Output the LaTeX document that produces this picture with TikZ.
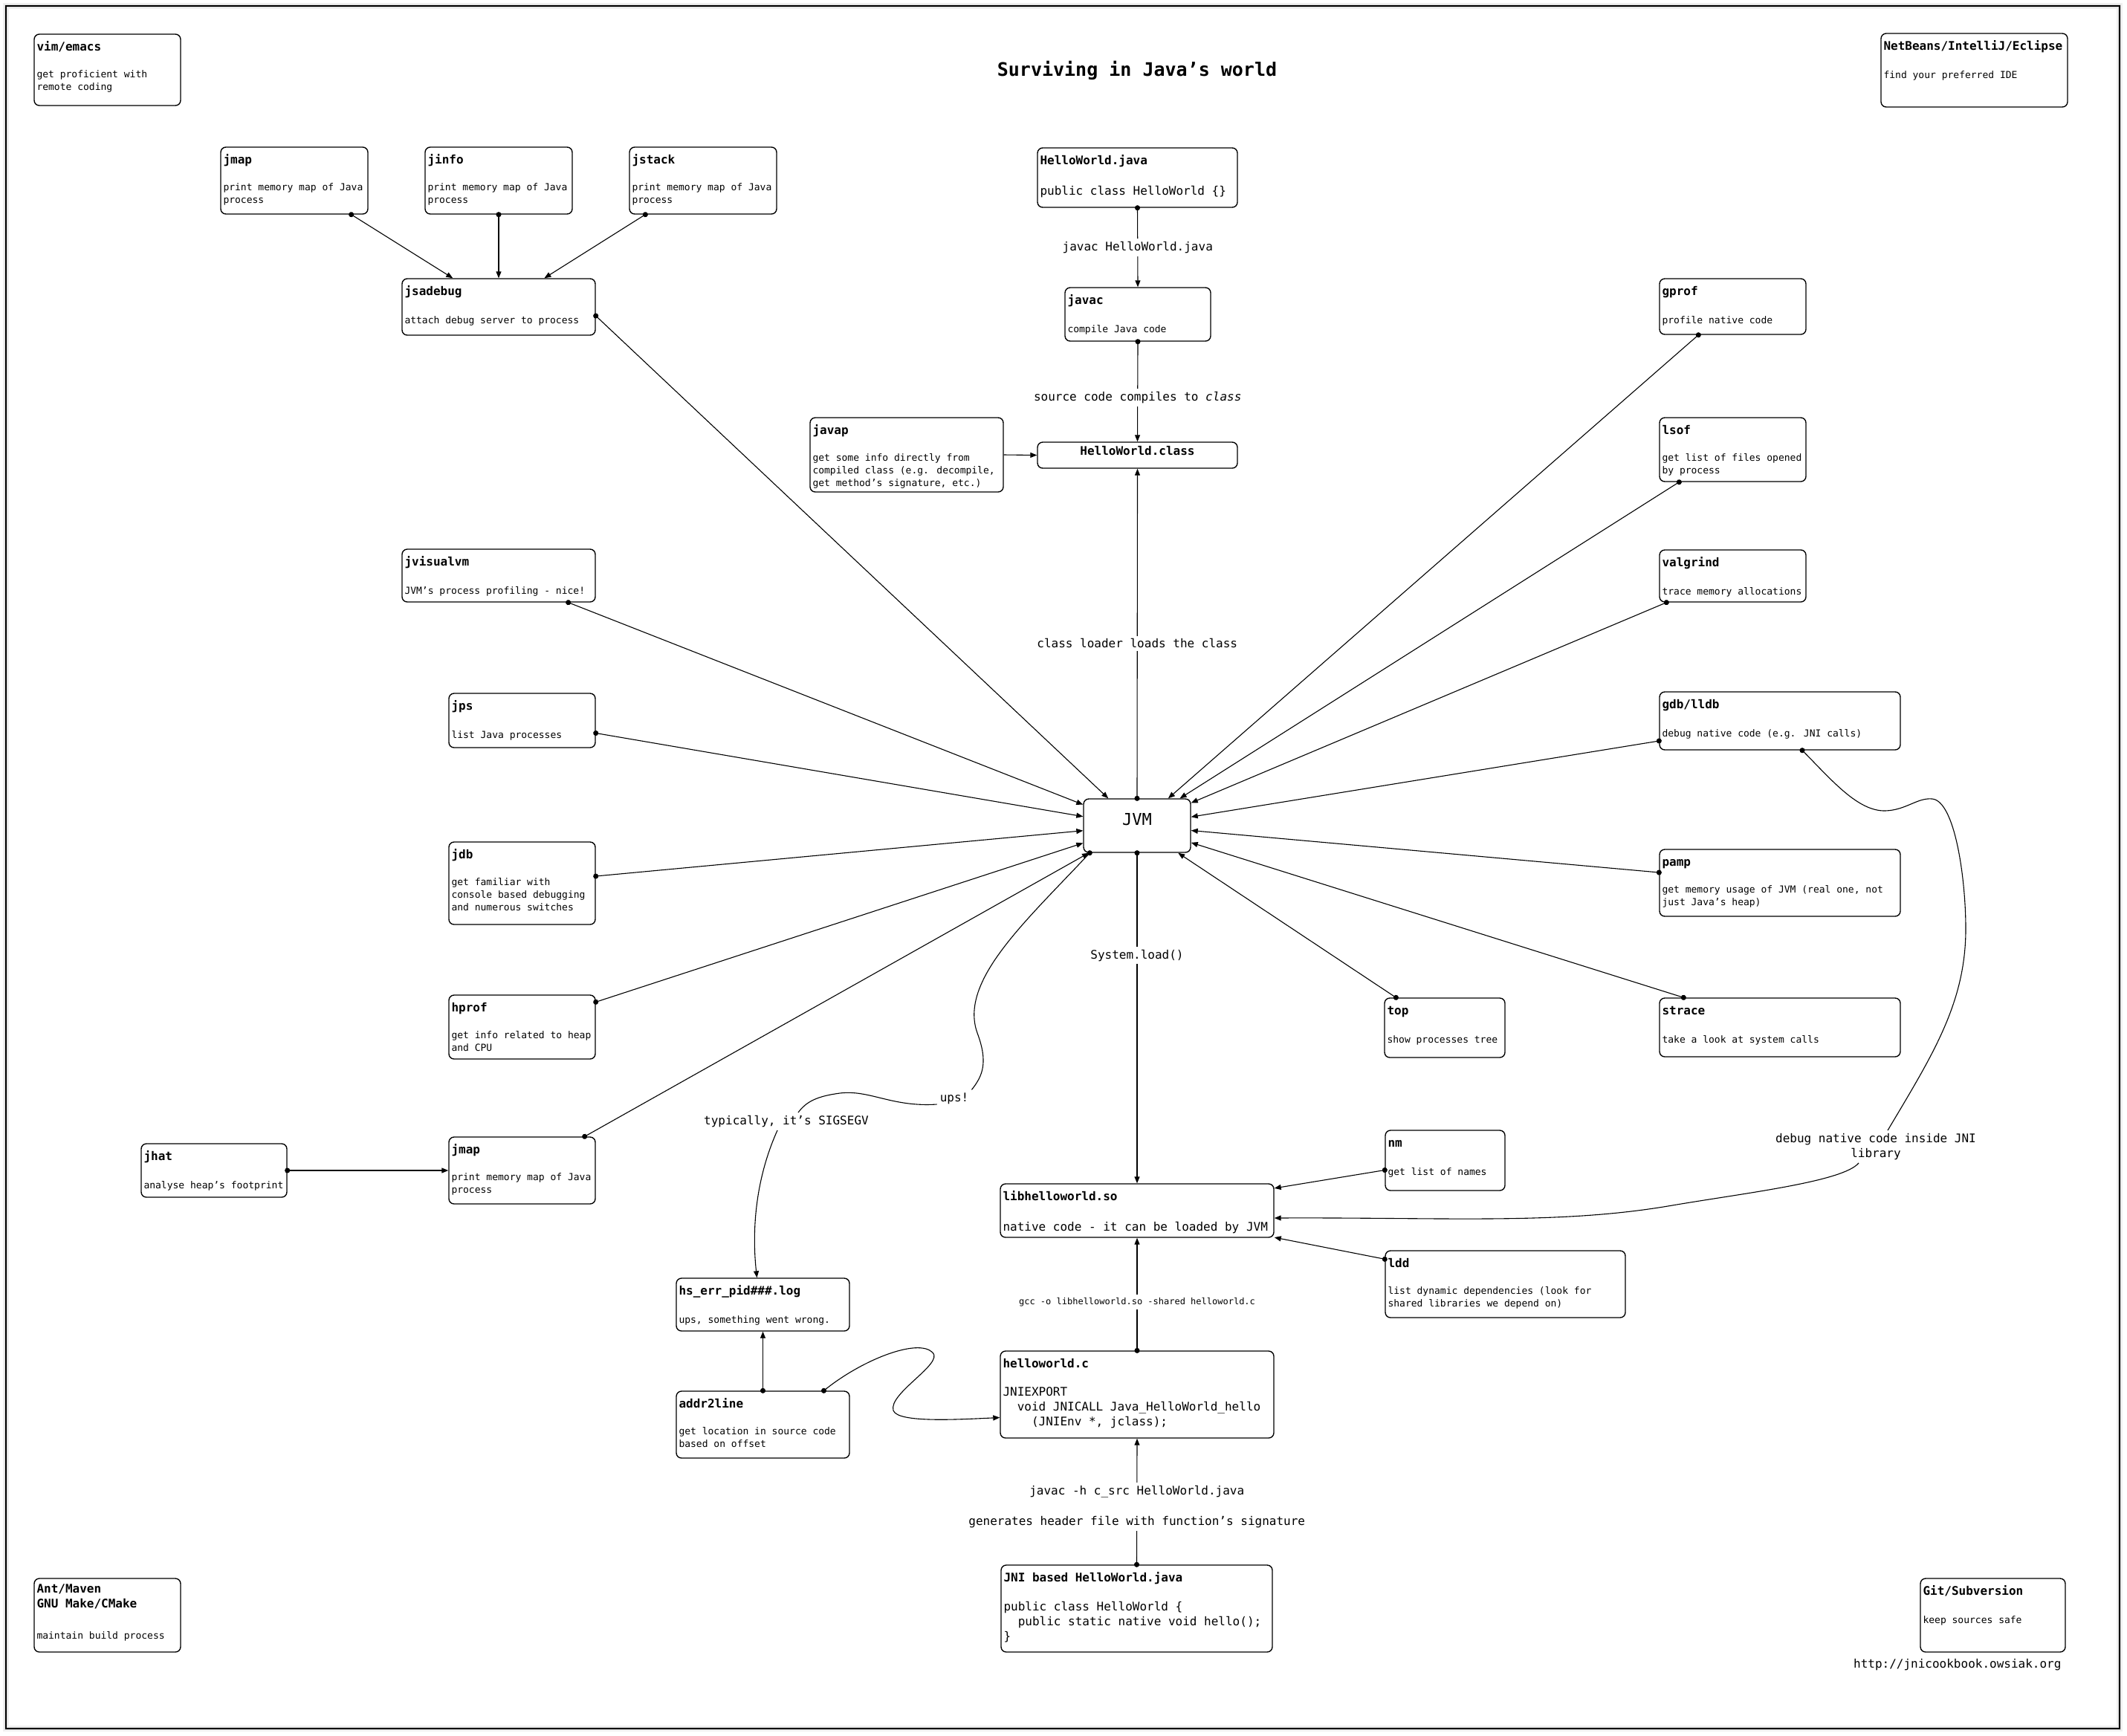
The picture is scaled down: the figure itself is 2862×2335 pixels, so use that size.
\documentclass[tikz,border=0pt]{standalone}
\usepackage{fontspec}
\setmainfont{DejaVu Sans Mono}
\usetikzlibrary{arrows.meta,fit}

\tikzset{
  box/.style={draw, line width=1.4pt, rounded corners=7pt, fill=white, inner sep=0pt},
  ttl/.style={anchor=north west, align=left, inner sep=0pt, xshift=4pt, yshift=-8.5pt,
    font=\fontsize{16}{20}\selectfont\bfseries, execute at begin node=\strut},
  dsc/.style={anchor=north west, align=left, inner sep=0pt, xshift=4pt, yshift=-49pt,
    font=\fontsize{13}{17}\selectfont, execute at begin node=\strut},
  bigdsc/.style={dsc, yshift=-0.5pt, font=\fontsize{16}{20}\selectfont},
  lbl/.style={fill=white, inner sep=4pt, align=center, font=\fontsize{16}{20}\selectfont},
  conn/.style={line width=1.1pt, ->},
  dotconn/.style={line width=1.1pt, {Circle[length=7pt]}->, shorten <=-3.5pt},
  dotstart/.style={line width=1.1pt, {Circle[length=7pt]}-, shorten <=-3.5pt},
  >={Triangle[length=9pt,width=7pt]}
}

% #1 text style, #2 name, #3 top left, #4 bottom right, #5 title, #6 description
\newcommand{\toolbox}[6][dsc]{%
  \node[box, fit={(#3) (#4)}] (#2) {};
  \node[ttl] (#2-t) at (#2.north west) {#5};
  \node[#1] (#2-d) at (#2.north west) {#6};
}

\begin{document}
\begin{tikzpicture}[x=1pt, y=-1pt]
\useasboundingbox (0,0) rectangle (2862,2335);

% page frame
\draw[line width=8pt, black!6] (8,8) rectangle (2852,2326);
\draw[line width=4pt, black!14] (8,8) rectangle (2852,2326);
\draw[line width=1.6pt] (8,8) rectangle (2852,2326);

\node[font=\fontsize{25}{30}\selectfont\bfseries] (title) at (1530,95) {Surviving in Java’s world};

% corners
\toolbox{vim}{46,46}{243,142}{vim/emacs}{get proficient with\\remote coding}
\toolbox{ide}{2531,45}{2782,144}{NetBeans/IntelliJ/Eclipse}{find your preferred IDE}
\toolbox[dsc,yshift=-21pt]{ant}{46,2124}{243,2223}{Ant/Maven\\GNU Make/CMake}{maintain build process}
\toolbox{git}{2584,2124}{2779,2223}{Git/Subversion}{keep sources safe}
\node[font=\fontsize{16}{20}\selectfont, anchor=east] (url) at (2777,2240) {http://jnicookbook.owsiak.org};

% java side
\toolbox[bigdsc]{hwjava}{1396,199}{1665,279}{HelloWorld.java}{public class HelloWorld \{\}}
\toolbox{javac}{1433,387}{1629,459}{javac}{compile Java code}
\node[box, fit={(1396,595) (1665,630)}, font=\fontsize{16}{20}\selectfont\bfseries] (hwclass) {HelloWorld.class};
\toolbox{javap}{1090,562}{1350,662}{javap}{get some info directly from\\compiled class (e.g. decompile,\\get method’s signature, etc.)}
\node[box, fit={(1458,1075) (1602,1147)}, font=\fontsize{22}{26}\selectfont] (jvm) {JVM};

\toolbox{jmapT}{297,198}{495,288}{jmap}{print memory map of Java\\process}
\toolbox{jinfo}{572,198}{770,288}{jinfo}{print memory map of Java\\process}
\toolbox{jstack}{847,198}{1045,288}{jstack}{print memory map of Java\\process}
\toolbox{jsadebug}{541,375}{801,451}{jsadebug}{attach debug server to process}
\toolbox{jvisualvm}{541,739}{801,810}{jvisualvm}{JVM’s process profiling - nice!}
\toolbox{jps}{604,933}{801,1006}{jps}{list Java processes}
\toolbox{jdb}{604,1133}{801,1244}{jdb}{get familiar with\\console based debugging\\and numerous switches}
\toolbox{hprof}{604,1339}{801,1425}{hprof}{get info related to heap\\and CPU}
\toolbox{jmapB}{604,1530}{801,1620}{jmap}{print memory map of Java\\process}
\toolbox{jhat}{190,1539}{386,1611}{jhat}{analyse heap’s footprint}

% native side
\toolbox{gprof}{2233,375}{2430,450}{gprof}{profile native code}
\toolbox{lsof}{2233,562}{2430,648}{lsof}{get list of files opened\\by process}
\toolbox{valgrind}{2233,740}{2430,810}{valgrind}{trace memory allocations}
\toolbox{gdb}{2233,931}{2557,1009}{gdb/lldb}{debug native code (e.g. JNI calls)}
\toolbox{pamp}{2233,1143}{2557,1233}{pamp}{get memory usage of JVM (real one, not\\just Java’s heap)}
\toolbox{top}{1863,1343}{2025,1423}{top}{show processes tree}
\toolbox{strace}{2233,1343}{2557,1422}{strace}{take a look at system calls}

\toolbox{hserr}{910,1720}{1143,1791}{hs\_err\_pid\#\#\#.log}{ups, something went wrong.}
\toolbox{addr2line}{910,1872}{1143,1962}{addr2line}{get location in source code\\based on offset}
\toolbox[bigdsc]{lib}{1346,1593}{1714,1665}{libhelloworld.so}{native code - it can be loaded by JVM}
\toolbox{nm}{1864,1521}{2025,1602}{nm}{get list of names}
\toolbox{ldd}{1864,1683}{2187,1773}{ldd}{list dynamic dependencies (look for\\shared libraries we depend on)}
\toolbox[bigdsc]{helloc}{1346,1818}{1714,1935}{helloworld.c}{JNIEXPORT\\~~void JNICALL Java\_HelloWorld\_hello\\~~~~(JNIEnv *, jclass);}
\toolbox[bigdsc]{jnijava}{1347,2106}{1712,2223}{JNI based HelloWorld.java}{public class HelloWorld \{\\~~public static native void hello();\\\}}

% compile chain
\draw[dotconn] (hwjava.south) -- node[lbl] {javac HelloWorld.java} (javac.north);
\draw[dotconn] (javac.south) -- node[lbl, pos=0.56] {source code compiles to \textit{class}} (hwclass.north);
\draw[conn] (javap.east) -- (hwclass.west);
\draw[dotconn] (jvm.north) -- node[lbl, pos=0.47] {class loader loads the class} (hwclass.south);
\draw[dotconn] (jvm.south) -- node[lbl, pos=0.31] {System.load()} (lib.north);

% java tools
\draw[dotconn] ([xshift=-23pt]jmapT.south east) -- (jsadebug);
\draw[dotconn] (jinfo.south) -- (jsadebug);
\draw[dotconn] ([xshift=22pt]jstack.south west) -- (jsadebug);
\draw[dotconn] ([yshift=-12pt]jsadebug.east) -- (jvm);
\draw[dotconn] ([xshift=-37pt]jvisualvm.south east) -- (jvm);
\draw[dotconn] ([yshift=-17pt]jps.east) -- (jvm);
\draw[dotconn] ([yshift=9.5pt]jdb.east) -- (jvm);
\draw[dotconn] ([yshift=-10pt]hprof.north east) -- (jvm);
\draw[dotconn] ([xshift=-15pt]jmapB.north east) -- (jvm);
\draw[dotconn] (jhat.east) -- (jmapB.west);

% native tools
\draw[dotconn] ([xshift=53pt]gprof.south west) -- (jvm);
\draw[dotconn] ([xshift=27pt]lsof.south west) -- (jvm);
\draw[dotconn] ([xshift=10pt]valgrind.south west) -- (jvm);
\draw[dotconn] ([yshift=-27pt]gdb.west) -- (jvm);
\draw[dotconn] ([yshift=14pt]pamp.west) -- (jvm);
\draw[dotconn] ([xshift=33pt]strace.north west) -- (jvm);
\draw[dotconn] ([xshift=16pt]top.north west) -- (jvm);

\draw[dotconn] ([yshift=-13pt]nm.west) -- (lib);
\draw[dotconn] ([yshift=-12pt]ldd.north west) -- (lib);
\draw[dotconn] (helloc.north) -- node[lbl, pos=0.43, font=\fontsize{12}{15}\selectfont] {gcc -o libhelloworld.so -shared helloworld.c} (lib.south);
\draw[dotconn] (jnijava.north) -- node[lbl, pos=0.46] {javac -h c\_src HelloWorld.java\\[21pt]generates header file with function’s signature} (helloc.south);

% crash path
\draw[dotconn] (addr2line.north) -- (hserr.south);
\draw[dotconn] ([xshift=82pt]addr2line.north) .. controls (1160,1830) and (1235,1800) .. (1255,1820)
  .. controls (1270,1835) and (1195,1875) .. (1202,1898)
  .. controls (1208,1915) and (1290,1910) .. ([yshift=-31pt]helloc.west);

\node[lbl] (ups) at (1284,1478) {ups!};
\node[lbl] (sigsegv) at (1058,1509) {typically, it’s SIGSEGV};
\draw[dotstart] ([xshift=9pt]jvm.south west) .. controls (1380,1240) and (1290,1320) .. (1315,1390)
  .. controls (1330,1430) and (1322,1448) .. (ups.north east);
\draw[line width=1.1pt] ([yshift=-8pt]ups.west) .. controls (1200,1490) and (1170,1466) .. (1130,1471)
  .. controls (1100,1475) and (1085,1482) .. ([xshift=16pt]sigsegv.north);
\draw[conn] ([xshift=-12pt]sigsegv.south) .. controls (1015,1590) and (1012,1660) .. ([xshift=-8pt]hserr.north);

% debugging the library
\node[lbl] (jnidbg) at (2524,1543) {debug native code inside JNI\\library};
\draw[dotstart] ([xshift=30pt]gdb.south) .. controls (2465,1050) and (2500,1092) .. (2537,1091)
  .. controls (2565,1090) and (2580,1073) .. (2600,1075)
  .. controls (2630,1078) and (2645,1180) .. (2645,1250)
  .. controls (2645,1350) and (2600,1420) .. ([xshift=16pt]jnidbg.north);
\draw[conn] ([xshift=-23pt]jnidbg.south) .. controls (2480,1590) and (2350,1605) .. (2250,1622)
  .. controls (2100,1648) and (1950,1638) .. ([yshift=-10pt]lib.east);
\end{tikzpicture}
\end{document}
